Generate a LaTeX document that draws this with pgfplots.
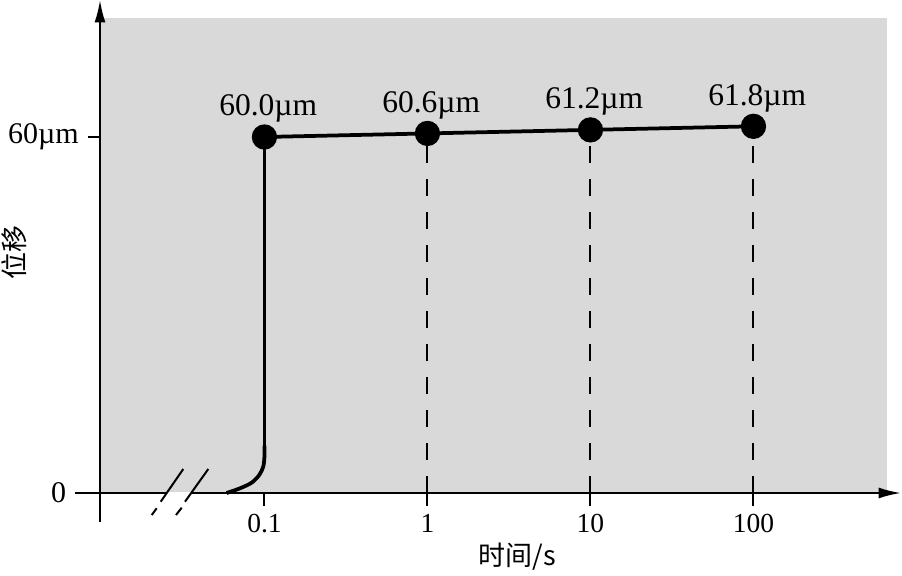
\documentclass[border=0pt]{standalone}
\usepackage{fontspec}
\setmainfont{Liberation Serif}
\newfontfamily\cjk{Noto Sans CJK SC}
\usepackage{pgfplots}
\pgfplotsset{compat=1.18}
\usetikzlibrary{arrows.meta}
\definecolor{bg}{RGB}{217,217,217}

\begin{document}
\begin{tikzpicture}
\useasboundingbox (-40pt,-32.8pt) rectangle (320.8pt,197.2pt);
\begin{axis}[
  scale only axis, width=320.4pt, height=197.2pt,
  xmode=log, xmin=0.0098, xmax=803.5, ymin=0, ymax=83.09,
  axis x line*=bottom, axis y line*=left,
  axis line style={line width=0.8pt},
  x axis line style={-{Latex[length=9pt,width=4.4pt]}},
  y axis line style={-{Latex[length=9pt,width=4.4pt]}},
  axis on top,
  tick align=outside, major tick length=5pt,
  tick style={line width=0.8pt, black},
  xminorticks=false, yminorticks=false,
  xtick={0.1,1,10,100}, xticklabels={0.1,1,10,100},
  ytick={60}, yticklabels={60µm},
  extra x ticks={0.0098}, extra x tick labels={},
  extra x tick style={major tick length=11.5pt},
  extra y ticks={0}, extra y tick labels={0},
  extra y tick style={major tick length=10pt},
  xticklabel style={font=\fontsize{11}{13}\selectfont},
  yticklabel style={font=\fontsize{12}{14}\selectfont},
  xlabel={\cjk 时间/s}, ylabel={\cjk 位移},
  label style={font=\fontsize{10.8}{13}\selectfont},
  xlabel style={at={(axis description cs:0.521,-0.13)}, anchor=center},
  ylabel style={at={(axis description cs:-0.1074,0.487)}, anchor=center},
  clip=false,
]
\fill[bg] (rel axis cs:0,0) rectangle (rel axis cs:0.9825,0.9635);
% dashed drop lines
\addplot[ycomb, black, line width=0.8pt, dash pattern=on 6.8pt off 6.4pt]
  coordinates {(1,60.6) (10,61.2) (100,61.8)};
% rise at t = 0.1 s
\addplot[black, line width=1.5pt, smooth, tension=0.5]
  coordinates {(0.0586,0) (0.0708,0.79) (0.0835,1.74) (0.0929,3.03) (0.0983,4.43) (0.1,6.12) (0.1,8)};
\addplot[black, line width=1.5pt]
  coordinates {(0.1,7) (0.1,60)};
% creep points
\addplot[black, line width=1.5pt, mark=*, mark size=4.3pt,
  nodes near coords, point meta=explicit symbolic,
  every node near coord/.append style={anchor=base, yshift=8.4pt, xshift=1.5pt,
    font=\fontsize{12.6}{15}\selectfont}]
  coordinates {(0.1,60.0)[60.0µm] (1,60.6)[60.6µm] (10,61.2)[61.2µm] (100,61.8)[61.8µm]};
\end{axis}
% axis break marks
\draw[white, line width=1pt] (26.7pt,-0.1pt) -- (36.5pt,-0.1pt);
\draw[black, line width=0.8pt] (20.68pt,-8.8pt) -- (22.68pt,-6.12pt);
\draw[black, line width=0.8pt] (24.28pt,-3.48pt) -- (33.32pt,9.6pt);
\draw[black, line width=0.8pt] (30.4pt,-8.8pt) -- (32.68pt,-5.88pt);
\draw[black, line width=0.8pt] (34pt,-3.48pt) -- (43.32pt,9.6pt);
\end{tikzpicture}
\end{document}
